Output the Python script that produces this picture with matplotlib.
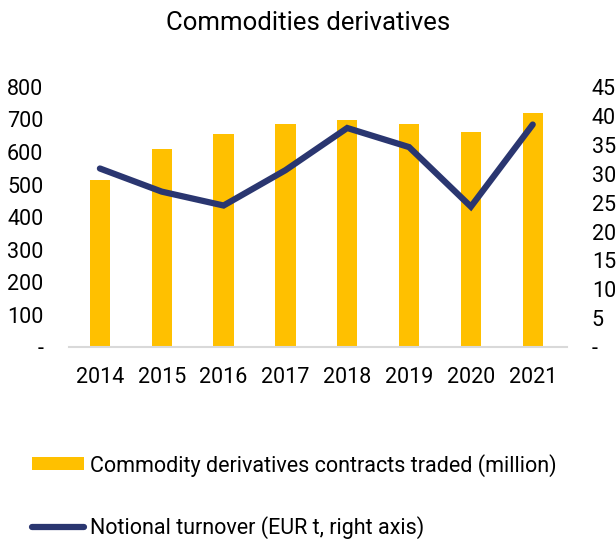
import numpy as np
import matplotlib.pyplot as plt

plt.rcParams['font.family'] = ['Roboto', 'DejaVu Sans']

years = ['2014', '2015', '2016', '2017', '2018', '2019', '2020', '2021']
contracts = [514, 608, 655, 687, 698, 685, 661, 720]
turnover = [30.9, 26.9, 24.5, 30.6, 37.9, 34.6, 24.3, 38.5]

left_ticks = [0, 100, 200, 300, 400, 500, 600, 700, 800]
left_labels = ['-', '100', '200', '300', '400', '500', '600', '700', '800']
right_ticks = [0, 5, 10, 15, 20, 25, 30, 35, 40, 45]
right_labels = ['-', '5', '10', '15', '20', '25', '30', '35', '40', '45']

fs = 15.5

fig = plt.figure(figsize=(6.16, 5.4), dpi=100)
ax = fig.add_axes([0.112, 0.357, 0.808, 0.482])
x = np.arange(len(years))

bars = ax.bar(x, contracts, width=0.33, color='#FFC000',
              label='Commodity derivatives contracts traded (million)')
ax.set_ylim(0, 800)
ax.set_xlim(-0.5, 7.55)
ax.set_yticks(left_ticks)
ax.set_yticklabels(left_labels)
ax.set_xticks(x)
ax.set_xticklabels(years)
ax.tick_params(axis='y', length=0, pad=18.5, labelsize=fs)
ax.tick_params(axis='x', length=0, pad=14, labelsize=fs)
for s in ['top', 'right', 'left']:
    ax.spines[s].set_visible(False)
ax.spines['bottom'].set_color('#D9D9D9')
ax.spines['bottom'].set_linewidth(1.5)

ax2 = ax.twinx()
line, = ax2.plot(x, turnover, color='#2A3670', linewidth=4.5,
                 solid_capstyle='round', solid_joinstyle='miter',
                 label='Notional turnover (EUR t, right axis)')
ax2.set_ylim(0, 45)
ax2.set_yticks(right_ticks)
ax2.set_yticklabels(right_labels)
ax2.tick_params(axis='y', length=0, pad=18, labelsize=fs)
for s in ['top', 'right', 'left', 'bottom']:
    ax2.spines[s].set_visible(False)

fig.text(0.5, 0.958, 'Commodities derivatives', ha='center', va='center', fontsize=18.5)

fig.legend([bars, line], [bars.get_label(), line.get_label()],
           loc='upper left', bbox_to_anchor=(0.052, 0.160), frameon=False,
           fontsize=fs, handlelength=2.4, handleheight=0.55,
           labelspacing=1.82, handletextpad=0.3, borderpad=0, borderaxespad=0)

fig.savefig('out.png', dpi=100)
